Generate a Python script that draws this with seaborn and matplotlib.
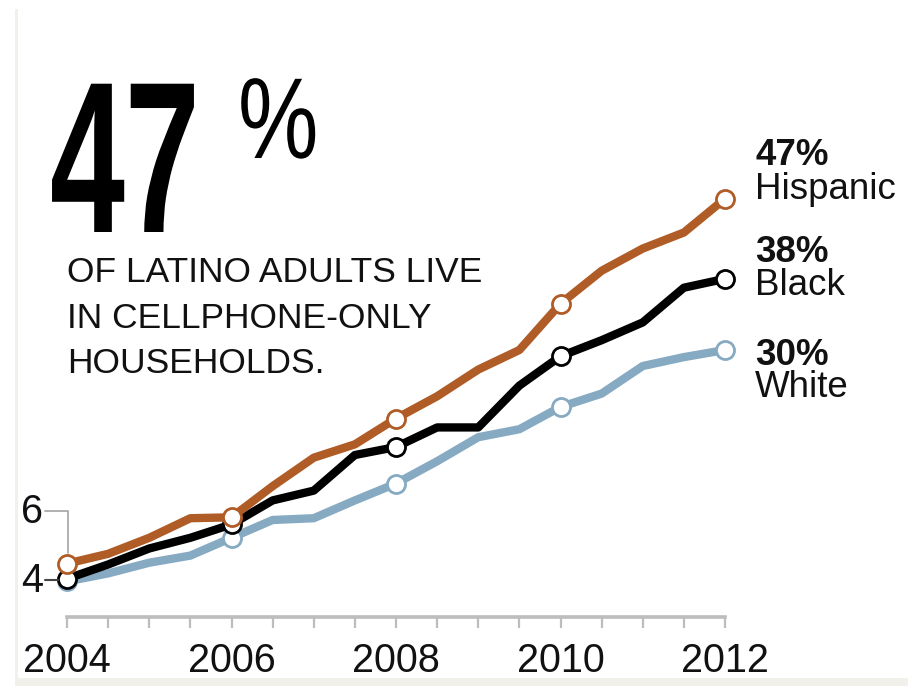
import matplotlib
matplotlib.use("Agg")
import matplotlib.pyplot as plt
from matplotlib.lines import Line2D
from matplotlib.patches import Rectangle
from matplotlib.patheffects import AbstractPathEffect
from matplotlib.transforms import Affine2D
import seaborn as sns
import pandas as pd

# ---------------- data (share of adults in cellphone-only households, %) ----------------
years = [2004.0, 2004.5, 2005.0, 2005.5, 2006.0, 2006.5, 2007.0, 2007.5, 2008.0,
         2008.5, 2009.0, 2009.5, 2010.0, 2010.5, 2011.0, 2011.5, 2012.0]
hispanic = [6.0, 7.1, 8.9, 11.1, 11.2, 14.7, 17.9, 19.4, 22.3,
            24.8, 27.8, 30.0, 35.2, 38.9, 41.4, 43.2, 47.0]
black = [4.3, 5.9, 7.7, 8.9, 10.4, 13.1, 14.2, 18.2, 19.1,
         21.3, 21.3, 26.0, 29.3, 31.1, 33.1, 37.0, 38.0]
white = [4.0, 4.9, 6.1, 6.9, 8.9, 10.9, 11.1, 13.1, 15.0,
         17.5, 20.2, 21.1, 23.6, 25.1, 28.2, 29.2, 30.0]
groups = ["White", "Black", "Hispanic"]
tick_labels = ["2004", "", "", "", "2006", "", "", "", "2008",
               "", "", "", "2010", "", "", "", "2012"]
headline_lines = ["OF LATINO ADULTS LIVE", "IN CELLPHONE-ONLY", "HOUSEHOLDS."]

palette = {"Hispanic": "#B05C26", "Black": "#000000", "White": "#87AAC3"}

df = pd.concat([
    pd.DataFrame({"year": years, "value": white, "group": "White"}),
    pd.DataFrame({"year": years, "value": black, "group": "Black"}),
    pd.DataFrame({"year": years, "value": hispanic, "group": "Hispanic"}),
], ignore_index=True)


class Stretch(AbstractPathEffect):
    """Draw text glyphs stretched (condensed-font look), anchored at the baseline origin."""

    def __init__(self, sx=1.0, sy=1.0):
        super().__init__()
        self.sx, self.sy = sx, sy

    def draw_path(self, renderer, gc, tpath, affine, rgbFace=None):
        renderer.draw_path(gc, tpath, Affine2D().scale(self.sx, self.sy) + affine, rgbFace)


# ---------------- figure ----------------
sns.set_theme(style="white")
plt.rcParams["font.family"] = ["Liberation Sans", "DejaVu Sans"]

W, H = 908, 686
fig = plt.figure(figsize=(W / 100, H / 100), dpi=100)
fig.patch.set_facecolor("white")


def fx(x):
    return x / W


def fy(y):
    return 1 - y / H


ax = fig.add_axes([fx(67), fy(617), 658 / W, 445 / H])
ax.set_facecolor("none")

sns.lineplot(data=df, x="year", y="value", hue="group", hue_order=groups,
             palette=palette, linewidth=6.0, legend=False, ax=ax,
             marker="o", markevery=4, markersize=13, markerfacecolor="white",
             markeredgewidth=2.0, clip_on=False, solid_joinstyle="round",
             solid_capstyle="round")
for line in ax.lines:
    line.set_markeredgecolor(line.get_color())

ax.set_xlim(2004, 2012)
ax.set_ylim(0, 50)
ax.set_xlabel("")
ax.set_ylabel("")
ax.set_yticks([])
ax.set_xticks(years)
ax.set_xticklabels(tick_labels)
for s in ["left", "right", "top"]:
    ax.spines[s].set_visible(False)
ax.spines["bottom"].set_color("#BDBDBD")
ax.spines["bottom"].set_linewidth(2.6)
ax.tick_params(axis="x", direction="out", length=8, width=1.6, color="#BDBDBD",
               pad=10, labelsize=28.5, labelcolor="#111111", bottom=True)

# ---------------- left value annotations ----------------
fig.text(fx(43), fy(523), f"{hispanic[0]:.0f}", ha="right", va="baseline",
         fontsize=28.5, color="#111111")
fig.text(fx(43), fy(592), f"{white[0]:.0f}", ha="right", va="baseline",
         fontsize=28.5, color="#111111")
fig.add_artist(Line2D([fx(45), fx(68), fx(68)], [fy(511), fy(511), fy(553)],
                      transform=fig.transFigure, color="#AAAAAA", linewidth=1.3))
fig.add_artist(Line2D([fx(45), fx(58)], [fy(580), fy(580)],
                      transform=fig.transFigure, color="#444444", linewidth=1.5))

# ---------------- headline ----------------
fig.text(fx(50), fy(232), f"{hispanic[-1]:.0f}", ha="left", va="baseline",
         fontsize=97, fontweight="bold", color="black",
         path_effects=[Stretch(1.0, 1.6)])
fig.text(fx(238), fy(158), "%", ha="left", va="baseline",
         fontsize=74, color="black", path_effects=[Stretch(0.88, 1.12)])
for i, txt in enumerate(headline_lines):
    fig.text(fx(67), fy(282 + 45.5 * i), txt, ha="left", va="baseline",
             fontsize=25.5, color="#111111")

# ---------------- end labels ----------------
end_labels = [
    (f"{hispanic[-1]:.0f}%", "Hispanic", 165, 199),
    (f"{black[-1]:.0f}%", "Black", 262, 295),
    (f"{white[-1]:.0f}%", "White", 365, 397),
]
for num, name, y1, y2 in end_labels:
    fig.text(fx(755), fy(y1), num, ha="left", va="baseline", fontsize=26.5,
             fontweight="bold", color="#111111")
    fig.text(fx(755), fy(y2), name, ha="left", va="baseline", fontsize=26.5,
             color="#111111")

# ---------------- light frame ----------------
frame_col = "#F1F0EB"
fig.add_artist(Rectangle((fx(15), 0), 3 / W, (H - 9) / H, transform=fig.transFigure,
                         facecolor=frame_col, edgecolor="none"))
fig.add_artist(Rectangle((fx(15), 0), 1, 8 / H, transform=fig.transFigure,
                         facecolor=frame_col, edgecolor="none"))

fig.savefig("out.png", dpi=100)
